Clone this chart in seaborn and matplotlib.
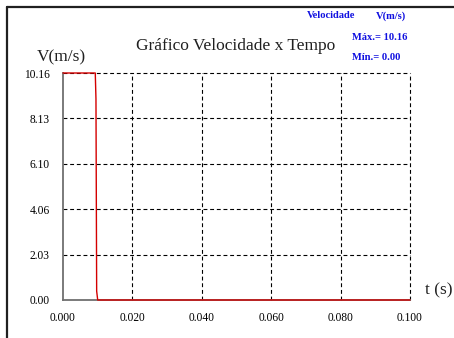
import matplotlib
matplotlib.use("Agg")
import matplotlib.pyplot as plt
from matplotlib.lines import Line2D
import pandas as pd
import seaborn as sns

# Velocity samples over time
tempo = [0.0, 0.0093, 0.0095, 0.0097, 0.0100, 0.100]
velocidade = [10.16, 10.16, 9.0, 0.4, 0.0, 0.0]

x_ticks = [0.000, 0.020, 0.040, 0.060, 0.080, 0.100]
x_labels = ["0.000", "0.020", "0.040", "0.060", "0.080", "0.100"]
y_ticks = [0.00, 2.03, 4.06, 6.10, 8.13, 10.16]
y_labels = ["0.00", "2.03", "4.06", "6.10", "8.13", "10.16"]

v_max = 10.16
v_min = 0.00

sns.set_style("white")
plt.rcParams["font.family"] = ["Liberation Serif", "DejaVu Serif"]

fig = plt.figure(figsize=(4.54, 3.38), dpi=100)
ax = fig.add_axes([63 / 454, 1 - 300 / 338, 347 / 454, 227 / 338])

df = pd.DataFrame({"t": tempo, "v": velocidade})
sns.lineplot(data=df, x="t", y="v", ax=ax, sort=False, estimator=None,
             color="#d40000", linewidth=1.0, zorder=5)
for line in ax.get_lines():
    line.set_clip_on(False)

ax.set_xlim(0, 0.1)
ax.set_ylim(0, 10.16)
ax.set_xticks(x_ticks)
ax.set_xticklabels(x_labels)
ax.set_yticks(y_ticks)
ax.set_yticklabels(y_labels)
ax.tick_params(axis="both", length=0, labelsize=8.3, colors="black")
ax.tick_params(axis="y", pad=9.4)
ax.tick_params(axis="x", pad=8.5)
ax.set_xlabel("")
ax.set_ylabel("")

# dashed grid, including the top and right borders
for xv in x_ticks[1:]:
    ax.axvline(xv, color="black", linewidth=0.8, linestyle=(0, (3.5, 2.5)), zorder=2,
               clip_on=False)
for yv in y_ticks[1:]:
    ax.axhline(yv, color="black", linewidth=0.8, linestyle=(0, (3.5, 2.5)), zorder=2,
               clip_on=False)

for side in ["top", "right"]:
    ax.spines[side].set_visible(False)
for side in ["left", "bottom"]:
    ax.spines[side].set_color("#707070")
    ax.spines[side].set_linewidth(1.3)
    ax.spines[side].set_zorder(3)

# titles and axis captions
fig.text(236 / 454, 1 - 46 / 338, "Gráfico Velocidade x Tempo", ha="center", va="center",
         fontsize=12.5, color="#202020")
fig.text(37 / 454, 1 - 57 / 338, "V(m/s)", ha="left", va="center", fontsize=12.5, color="#202020")
fig.text(425 / 454, 1 - 290 / 338, "t (s)", ha="left", va="center", fontsize=12.5, color="#202020")

# readout box
blue = "#1010e0"
fs_box = 7.6
fig.text(307 / 454, 1 - 16 / 338, "Velocidade", ha="left", va="center", fontsize=fs_box,
         fontweight="bold", color=blue)
fig.text(376 / 454, 1 - 16 / 338, "V(m/s)", ha="left", va="center", fontsize=fs_box,
         fontweight="bold", color=blue)
fig.text(352 / 454, 1 - 37 / 338, f"Máx.= {v_max:.2f}", ha="left", va="center", fontsize=fs_box,
         fontweight="bold", color=blue)
fig.text(352 / 454, 1 - 58 / 338, f"Mín.= {v_min:.2f}", ha="left", va="center", fontsize=fs_box,
         fontweight="bold", color=blue)

# panel frame
fig.add_artist(Line2D([7 / 454, 1], [1 - 7 / 338, 1 - 7 / 338], transform=fig.transFigure,
                      color="#202020", linewidth=1.6))
fig.add_artist(Line2D([7 / 454, 7 / 454], [0, 1 - 7 / 338], transform=fig.transFigure,
                      color="#202020", linewidth=1.6))

fig.savefig("out.png", dpi=100)
